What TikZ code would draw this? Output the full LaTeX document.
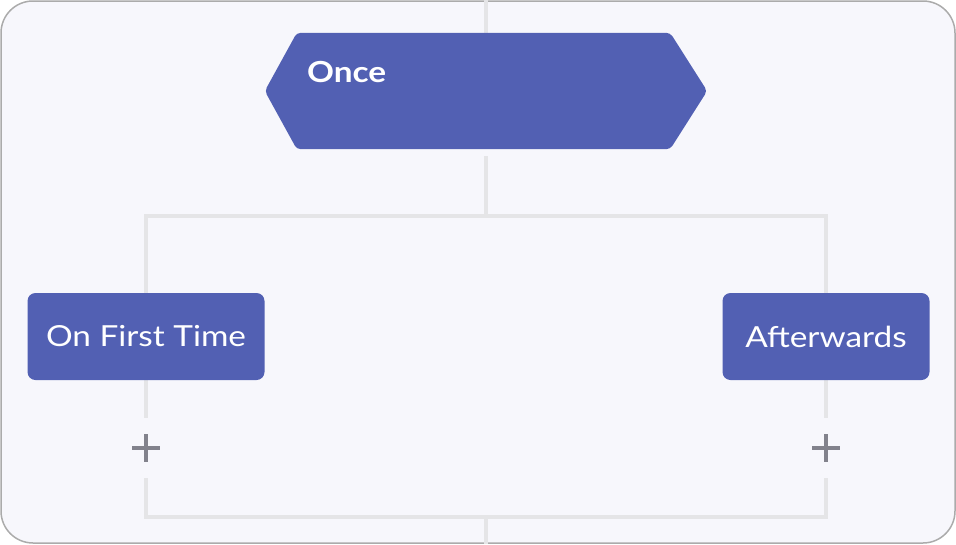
\documentclass[tikz,border=0pt]{standalone}
\usepackage{fontspec}
\setmainfont{Lato}[FakeStretch=1.15]
\usetikzlibrary{calc}
\definecolor{bg}{HTML}{F7F7FC}
\definecolor{framec}{HTML}{ABABAB}
\definecolor{wirec}{HTML}{E5E5E7}
\definecolor{blk}{HTML}{5260B3}
\definecolor{plusc}{HTML}{82828C}
\pgfdeclarelayer{back}
\pgfdeclarelayer{bgl}
\pgfsetlayers{back,bgl,main}
\tikzset{
  wire/.style={draw=wirec, line width=4pt},
  block/.style={fill=blk, rounded corners=8pt, text=white, inner sep=0pt, font=\fontsize{29}{34}\selectfont},
  plusnode/.style={minimum size=60pt, inner sep=0pt,
    path picture={\draw[plusc, line width=4pt] ($(path picture bounding box.center)+(-14,0)$) -- ++(28,0)
      ($(path picture bounding box.center)+(0,-14)$) -- ++(0,28);}},
}
\begin{document}
\begin{tikzpicture}[x=1pt,y=-1pt]
\useasboundingbox (0,0) rectangle (956,544);
\begin{pgfonlayer}{back}
\draw[framec, line width=1.5pt, fill=bg, rounded corners=32pt] (1,1) rectangle (955,543);
\end{pgfonlayer}
% hexagon
\node[minimum width=442pt, minimum height=116pt, inner sep=0pt] (once) at (486,91) {};
\fill[blk, rounded corners=4pt] (once.west) -- ($(once.north west)+(32,0)$) -- ($(once.north east)+(-37,0)$) -- (once.east) -- ($(once.south east)+(-37,0)$) -- ($(once.south west)+(32,0)$) -- cycle;
\node[anchor=base west, text=white, inner sep=0pt, font=\fontsize{29}{34}\selectfont\bfseries] (oncelabel) at (307,82) {Once};
% action blocks
\node[block, minimum width=237pt, minimum height=87pt] (first) at (146,336.5) {On First Time};
\node[block, minimum width=207pt, minimum height=87pt] (after) at (826,336.5) {Afterwards};
% plus markers
\node[plusnode] (pfirst) at (146,448) {};
\node[plusnode] (pafter) at (826,448) {};
\coordinate (top) at (486,0);
\coordinate (j1) at (486,216);
\coordinate (j2) at (486,517);
\coordinate (bot) at (486,544);
\begin{pgfonlayer}{bgl}
\draw[wire] (top) -- (once.north);
\draw[wire] ($(once.south)+(0,7)$) -- (j1);
\draw[wire] (j1) -| (first.north);
\draw[wire] (j1) -| (after.north);
\draw[wire] (first.south) -- (pfirst.north);
\draw[wire] (after.south) -- (pafter.north);
\draw[wire] (pfirst.south) |- (j2) -| (pafter.south);
\draw[wire] (j2) -- (bot);
\end{pgfonlayer}
\end{tikzpicture}
\end{document}
